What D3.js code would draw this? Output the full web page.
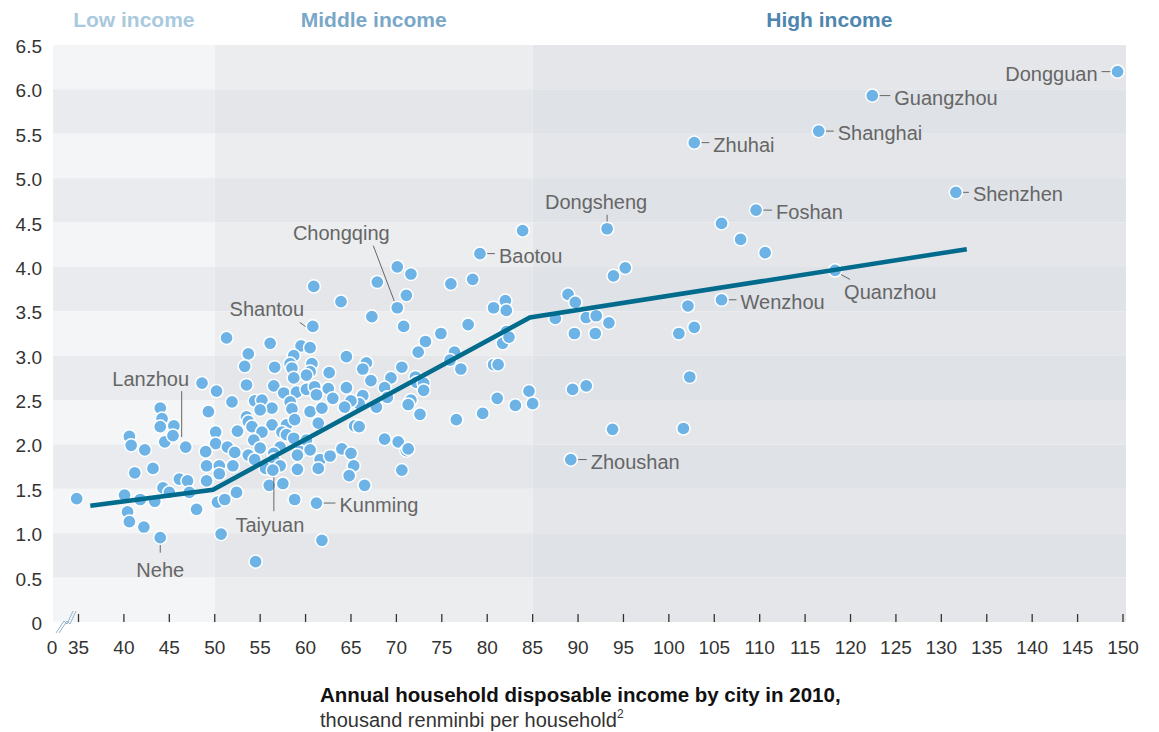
<!DOCTYPE html>
<html>
<head>
<meta charset="utf-8">
<script src="https://cdn.jsdelivr.net/npm/d3@7"></script>
<style>
  body { margin: 0; background: #fff; }
  svg text { font-family: "Liberation Sans", Arial, sans-serif; }
</style>
</head>
<body>
<svg id="chart" width="1159" height="732"></svg>
<script>
// unlabelled cities: [income, value]
var cityPoints = [
  [34.8,1.39],[40.07,1.43],[40.4,1.24],[40.6,1.13],[42.2,1.07],[41.8,1.38],[43.4,1.36],[44.3,1.51],
  [45.0,1.46],[46.1,1.61],[47.0,1.59],[47.2,1.46],[48.0,1.27],[40.6,2.09],[40.8,1.99],[42.3,1.94],
  [41.2,1.68],[43.2,1.73],[44.0,2.41],[44.2,2.29],[44.0,2.20],[44.5,2.03],[45.5,2.21],[45.4,2.10],
  [48.6,2.69],[50.2,2.60],[51.9,2.48],[49.3,2.37],[50.1,2.14],[50.1,2.01],[49.0,1.92],[49.1,1.76],
  [50.5,1.76],[51.4,1.97],[52.2,1.91],[52.0,1.76],[50.5,1.67],[49.1,1.59],[50.3,1.35],[51.1,1.38],
  [52.4,1.46],[50.7,0.99],[52.5,2.15],
  [51.3,3.20],[56.1,3.14],[57.5,1.56],[56.0,1.54],[58.8,1.38],[61.8,0.92],[54.5,0.68],[60.9,3.78],
  [53.7,3.02],[59.5,3.11],[60.5,3.09],[58.7,3.00],[56.6,2.87],[58.3,2.91],[58.5,2.86],[60.7,2.91],
  [60.5,2.82],[60.1,2.78],[53.3,2.88],[62.6,2.81],[58.7,2.75],[53.5,2.67],[56.5,2.66],[57.6,2.58],
  [59.0,2.59],[60.1,2.62],[61.0,2.65],[61.2,2.56],[62.5,2.63],[63.0,2.52],[54.4,2.49],[55.2,2.50],
  [58.3,2.48],[58.5,2.40],[56.3,2.41],[55.0,2.39],[60.5,2.37],[61.8,2.41],[53.5,2.31],[53.7,2.26],
  [54.1,2.20],[56.3,2.22],[57.9,2.22],[58.8,2.28],[61.4,2.24],[55.2,2.14],[57.4,2.14],[57.9,2.11],
  [58.7,2.07],[60.1,2.05],[54.3,2.05],[55.0,1.96],[57.2,1.97],[59.4,1.92],[60.5,1.94],[53.7,1.88],
  [54.4,1.83],[56.5,1.90],[56.5,1.83],[59.1,1.88],[61.6,1.83],[62.7,1.87],[55.6,1.73],[57.2,1.76],
  [59.1,1.72],[61.4,1.73],
  [70.1,4.00],[71.6,3.92],[67.9,3.83],[76.0,3.81],[78.4,3.86],[71.1,3.68],[63.9,3.61],[67.3,3.44],
  [70.8,3.33],[80.7,3.54],[82.0,3.62],[82.1,3.51],[77.9,3.35],[74.9,3.25],[73.2,3.16],[72.4,3.04],
  [76.4,3.04],[75.9,2.95],[77.1,2.85],[81.7,3.14],[82.1,3.27],[80.7,2.90],[81.2,2.90],[64.5,2.99],
  [66.7,2.92],[66.3,2.85],[70.6,2.87],[69.4,2.75],[67.2,2.72],[64.5,2.64],[68.7,2.64],[72.1,2.76],
  [72.2,2.70],[73.0,2.69],[73.0,2.61],[69.0,2.53],[67.8,2.42],[66.3,2.55],[65.9,2.46],[65.0,2.49],
  [64.3,2.42],[71.6,2.50],[71.3,2.45],[72.6,2.34],[76.6,2.28],[79.5,2.35],[81.1,2.52],[65.4,2.21],
  [65.9,2.20],[68.7,2.06],[70.2,2.03],[71.1,1.93],[71.3,1.95],[64.0,1.95],[65.0,1.90],[65.3,1.76],
  [64.8,1.65],[70.6,1.71],[66.5,1.54],
  [83.9,4.41],[95.2,3.99],[93.9,3.90],[88.9,3.69],[89.7,3.60],[87.5,3.42],[90.9,3.43],[92.0,3.45],
  [93.4,3.37],[89.6,3.25],[91.9,3.25],[82.4,3.21],[89.4,2.62],[90.9,2.66],[84.6,2.60],[85.0,2.46],
  [83.1,2.44],[93.8,2.17],
  [105.8,4.49],[107.9,4.31],[110.6,4.16],[102.1,3.56],[102.8,3.32],[101.1,3.25],[102.3,2.76],[101.6,2.18]
];

// labelled cities
var cityNames  = ["Dongguan","Guangzhou","Shanghai","Zhuhai","Shenzhen","Foshan","Wenzhou","Quanzhou",
                  "Dongsheng","Baotou","Zhoushan","Chongqing","Shantou","Lanzhou","Taiyuan","Kunming","Nehe"];
var cityIncome = [149.4,122.4,116.5,102.8,131.6,109.6,105.8,118.3, 93.2,79.2,89.2,70.1,60.8,46.8,56.4,61.2,44.0];
var cityValue  = [6.20,5.93,5.53,5.40,4.84,4.64,3.63,3.96, 4.43,4.15,1.83,3.54,3.33,1.97,1.71,1.34,0.95];

// trend line
var trendIncome = [36.3, 49.8, 84.7, 132.8];
var trendValue  = [1.31, 1.49, 3.43, 4.20];

var xTicks = d3.range(35, 151, 5);
var yTicks = d3.range(0, 6.51, 0.5);
var incomeGroups = ["Low income", "Middle income", "High income"];
var groupBreaks = [35, 50, 85, 150];

var svg = d3.select("#chart");
var x = d3.scaleLinear().domain([35, 150]).range([78.5, 1123]);
var y = d3.scaleLinear().domain([0, 6.5]).range([622, 45]);
var plotLeft = 53, plotRight = 1126;

// label placement: text offset from point, anchor, leader line
var place = {
  Dongguan:  {dx: -20, dy: 2, anchor: "end",   lead: [-16, 0, -5, 0]},
  Guangzhou: {dx: 22,  dy: 2, anchor: "start", lead: [5, 0, 18, 0]},
  Shanghai:  {dx: 19,  dy: 2, anchor: "start", lead: [3, 0, 15, 0]},
  Zhuhai:    {dx: 19,  dy: 2, anchor: "start", lead: [3, 0, 15, 0]},
  Shenzhen:  {dx: 17,  dy: 2, anchor: "start", lead: [2, 0, 13, 0]},
  Foshan:    {dx: 20,  dy: 2, anchor: "start", lead: [4, 0, 16, 0]},
  Wenzhou:   {dx: 19,  dy: 2, anchor: "start", lead: [3, 0, 15, 0]},
  Quanzhou:  {dx: 9,   dy: 22, anchor: "start", lead: [4, 3, 15, 9]},
  Dongsheng: {dx: -11, dy: -27, anchor: "middle", lead: [0, -14, 0, -4]},
  Baotou:    {dx: 19,  dy: 2, anchor: "start", lead: [3, 0, 15, 0]},
  Zhoushan:  {dx: 20,  dy: 2, anchor: "start", lead: [4, 0, 16, 0]},
  Chongqing: {dx: -56, dy: -75, anchor: "middle", lead: [-24, -62, -2, -4]},
  Shantou:   {dx: -46, dy: -17, anchor: "middle", lead: [-13, -4, -2, 4]},
  Lanzhou:   {dx: -35, dy: -68, anchor: "middle", lead: [-4, -56, -4, -10]},
  Taiyuan:   {dx: -3,  dy: 55, anchor: "middle", lead: [1, 4, 1, 41]},
  Kunming:   {dx: 23,  dy: 2, anchor: "start", lead: [5, 0, 19, 0]},
  Nehe:      {dx: 0,   dy: 32, anchor: "middle", lead: [0, 5, 0, 15]}
};

var bandFill = [["#f4f5f7", "#e9ebee"], ["#ecedef", "#e4e6e9"], ["#e4e6e9", "#dfe2e6"]];
var groupColor = ["#a9c9de", "#7aa7c8", "#4e86b0"];

// background: income regions x alternating bands
var bg = svg.append("g");
for (var r = 0; r < 3; r++) {
  var x0 = r == 0 ? plotLeft : x(groupBreaks[r]);
  var x1 = r == 2 ? plotRight : x(groupBreaks[r + 1]);
  for (var i = 0; i < 13; i++) {
    var bandTop = 6.5 - i * 0.5;
    bg.append("rect")
      .attr("x", x0).attr("width", x1 - x0)
      .attr("y", y(bandTop)).attr("height", y(bandTop - 0.5) - y(bandTop))
      .attr("fill", bandFill[r][i % 2]);
  }
  svg.append("text")
    .attr("x", (x0 + x1) / 2).attr("y", 27)
    .attr("text-anchor", "middle")
    .attr("font-size", 21).attr("font-weight", "bold")
    .attr("fill", groupColor[r])
    .text(incomeGroups[r]);
}

// x ticks + labels
svg.selectAll(".xtick").data(xTicks).enter().append("line")
  .attr("x1", d => x(d)).attr("x2", d => x(d))
  .attr("y1", 614).attr("y2", 622)
  .attr("stroke", "#333").attr("stroke-width", 1.3);

svg.selectAll(".xlab").data(xTicks).enter().append("text")
  .attr("x", d => x(d)).attr("y", 654)
  .attr("text-anchor", "middle").attr("font-size", 19).attr("fill", "#333")
  .text(d => d);
svg.append("text").attr("x", 52).attr("y", 654)
  .attr("text-anchor", "middle").attr("font-size", 19).attr("fill", "#333").text("0");

// axis break mark
[0, 3].forEach(function(o) {
  svg.append("path")
    .attr("d", "M" + (56 + o) + ",633 L" + (64 + o) + ",621 L" + (67 + o) + ",624 L" + (73 + o) + ",611")
    .attr("fill", "none").attr("stroke", "#93b3ca").attr("stroke-width", 1);
});

// y labels
svg.selectAll(".ylab").data(yTicks).enter().append("text")
  .attr("x", 42).attr("y", d => y(d) + 8)
  .attr("text-anchor", "end").attr("font-size", 19).attr("fill", "#333")
  .text(d => d == 0 ? "0" : d3.format(".1f")(d));

// dots
svg.append("g").selectAll("circle").data(cityPoints).enter().append("circle")
  .attr("cx", d => x(d[0])).attr("cy", d => y(d[1])).attr("r", 6.6)
  .attr("fill", "#6db3e6").attr("stroke", "#fff").attr("stroke-width", 1.5);

var labelled = cityNames.map(function(n, i) { return {name: n, inc: cityIncome[i], val: cityValue[i]}; });

var lab = svg.append("g");
labelled.forEach(function(c) {
  var p = place[c.name], px = x(c.inc), py = y(c.val);
  lab.append("line")
    .attr("x1", px + p.lead[0]).attr("y1", py + p.lead[1])
    .attr("x2", px + p.lead[2]).attr("y2", py + p.lead[3])
    .attr("stroke", "#666").attr("stroke-width", 1);
  lab.append("text")
    .attr("x", px + p.dx).attr("y", py + p.dy).attr("dy", "0.35em")
    .attr("text-anchor", p.anchor).attr("font-size", 20).attr("fill", "#666")
    .text(c.name);
});

svg.append("g").selectAll("circle").data(labelled).enter().append("circle")
  .attr("cx", d => x(d.inc)).attr("cy", d => y(d.val)).attr("r", 6.6)
  .attr("fill", "#6db3e6").attr("stroke", "#fff").attr("stroke-width", 1.5);

// trend line on top
var line = d3.line().x(d => x(d[0])).y(d => y(d[1]));
svg.append("path")
  .datum(trendIncome.map((v, i) => [v, trendValue[i]]))
  .attr("d", line)
  .attr("fill", "none").attr("stroke", "#006b8c").attr("stroke-width", 4.5);

// axis title
svg.append("text").attr("x", 320).attr("y", 702)
  .attr("font-size", 20.5).attr("font-weight", "bold").attr("fill", "#111")
  .text("Annual household disposable income by city in 2010,");
var t2 = svg.append("text").attr("x", 320).attr("y", 727)
  .attr("font-size", 20).attr("fill", "#333");
t2.append("tspan").text("thousand renminbi per household");
t2.append("tspan").attr("font-size", 12).attr("dy", -9).text("2");
</script>
</body>
</html>
